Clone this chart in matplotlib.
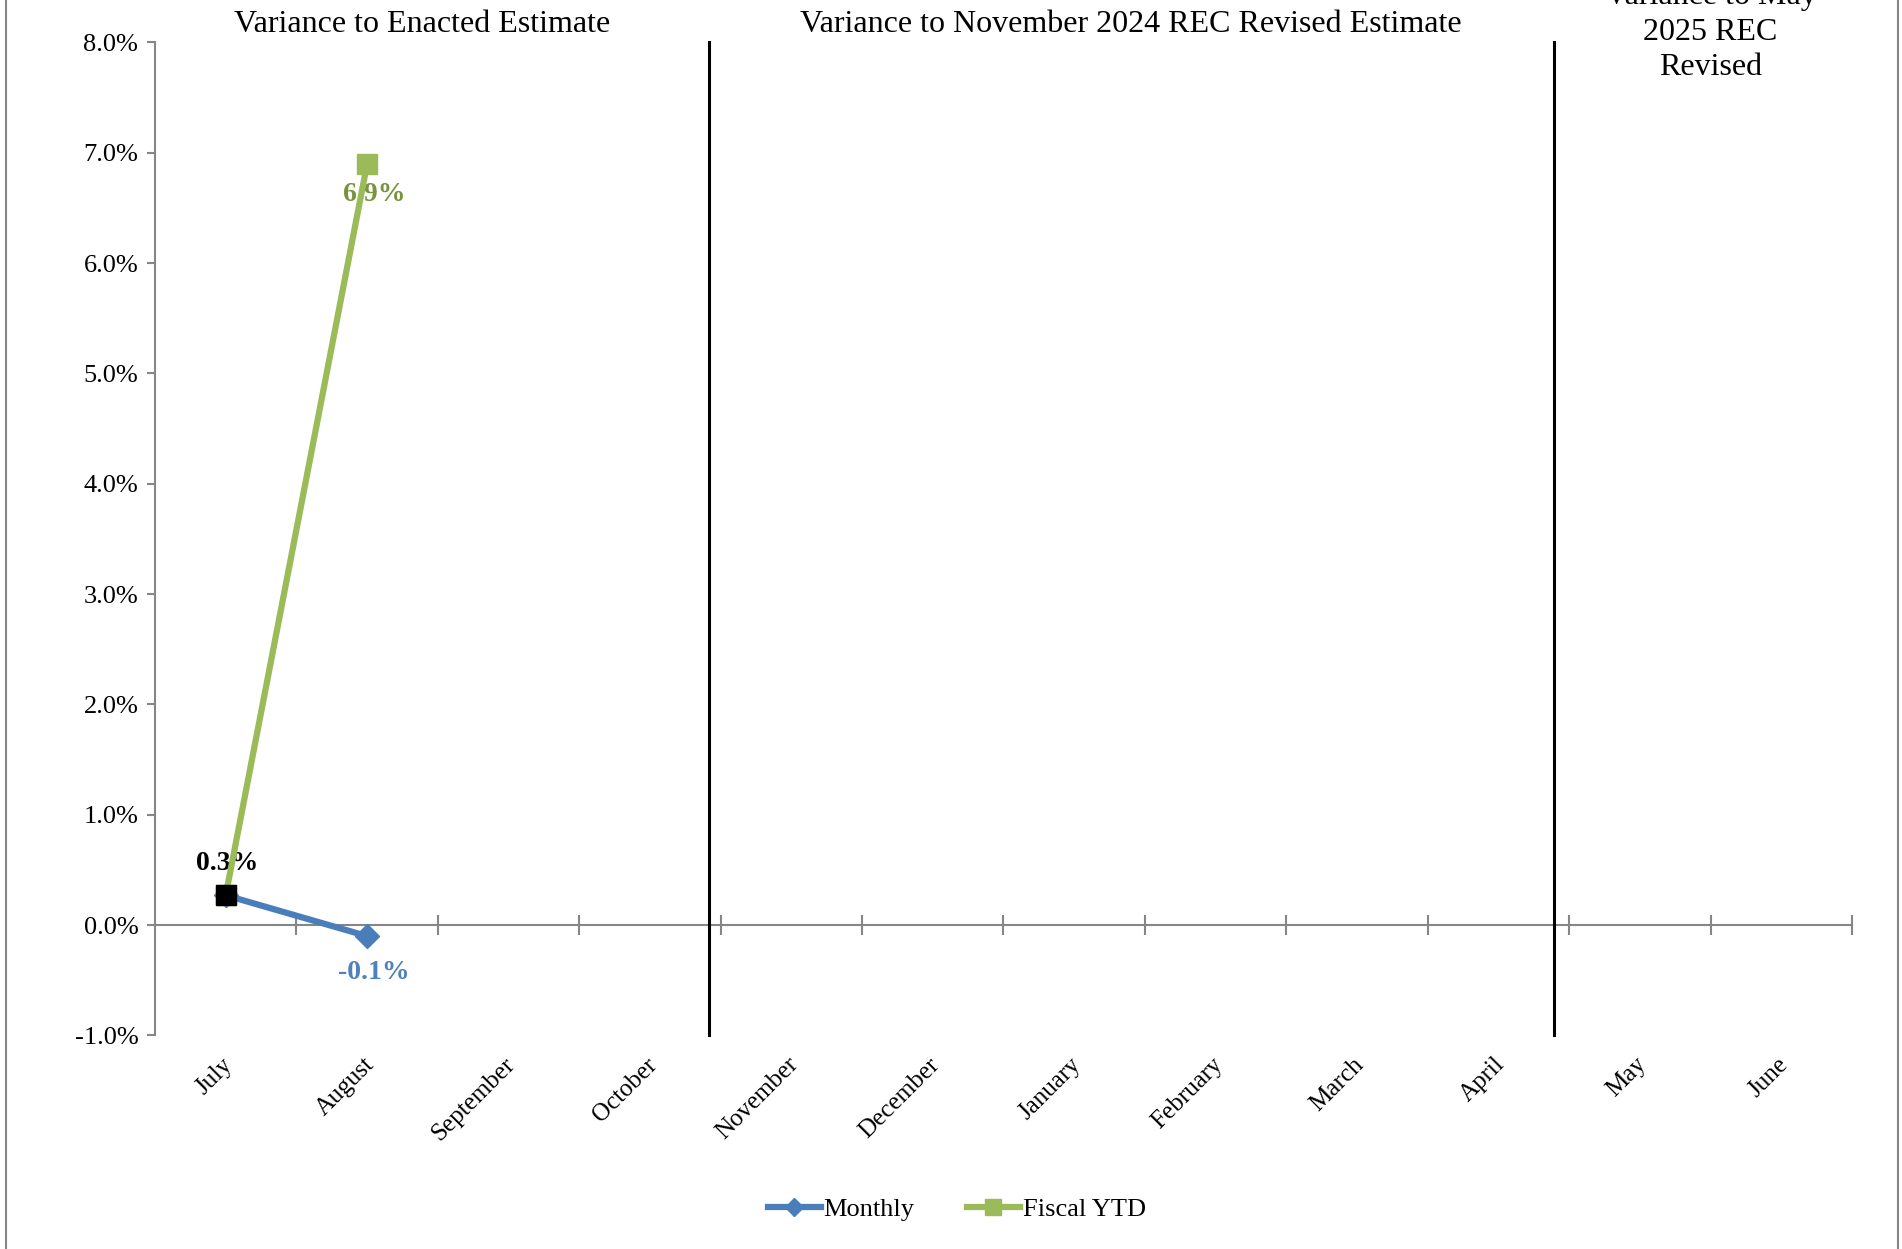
import numpy as np
import matplotlib.pyplot as plt
from matplotlib.lines import Line2D
from matplotlib.transforms import ScaledTranslation

# data
months = ['July', 'August', 'September', 'October', 'November', 'December',
          'January', 'February', 'March', 'April', 'May', 'June']
monthly = [0.27, -0.10]
fiscal_ytd = [0.27, 6.90]
monthly_labels = ['', '-0.1%']
ytd_labels = ['0.3%', '6.9%']
section_titles = ['Variance to Enacted Estimate',
                  'Variance to November 2024 REC Revised Estimate',
                  'Variance to May\n2025 REC\nRevised']

plt.rcParams['font.family'] = ['Liberation Serif', 'DejaVu Serif']

blue = '#4A7EBB'
green = '#9BBB59'
gray = '#868686'

fig = plt.figure(figsize=(19.02, 12.49), dpi=100)
ax = fig.add_axes([0.0815, 0.171, 0.8922, 0.795])

x = np.arange(len(months))
ax.plot(x[:len(monthly)], monthly, color=blue, lw=4.5, marker='D', ms=12,
        label='Monthly', zorder=3)
ax.plot(x[:len(fiscal_ytd)], fiscal_ytd, color=green, lw=4.5, marker='s', ms=14,
        label='Fiscal YTD', zorder=4)
# July point highlighted in black
ax.plot(x[0], fiscal_ytd[0], marker='s', ms=15, color='black', zorder=5, ls='none')

# data labels
ax.annotate(ytd_labels[0], (x[0], fiscal_ytd[0]), xytext=(1, 14), textcoords='offset points',
            ha='center', va='bottom', fontsize=20, fontweight='bold', color='black')
ax.annotate(ytd_labels[1], (x[1], fiscal_ytd[1]), xytext=(5, -13), textcoords='offset points',
            ha='center', va='top', fontsize=20, fontweight='bold', color='#77933C', zorder=2)
ax.annotate(monthly_labels[1], (x[1], monthly[1]), xytext=(5, -17), textcoords='offset points',
            ha='center', va='top', fontsize=20, fontweight='bold', color='#4F81BD')

ax.set_xlim(-0.5, len(months) - 0.5)
ax.set_ylim(-1, 8)
ax.set_yticks(np.arange(-1, 9, 1))
ax.set_yticklabels([f'{v:.1f}%' for v in np.arange(-1, 9, 1)], fontsize=19)
ax.set_xticks(x)
ax.set_xticklabels(months, rotation=45, ha='right', va='top', fontsize=18)
ax.tick_params(axis='x', length=0, pad=13)
ax.tick_params(axis='y', length=6, color=gray, width=1.5, pad=6)
for lab in ax.get_xticklabels():
    lab.set_transform(lab.get_transform() + ScaledTranslation(8 / 72, 0, fig.dpi_scale_trans))
for s in ['top', 'right', 'bottom']:
    ax.spines[s].set_visible(False)
ax.spines['left'].set_color(gray)
ax.spines['left'].set_linewidth(1.5)

# zero axis with crossing tick marks at category boundaries
zero_ax = ax.secondary_xaxis(1 / 9)
zero_ax.set_xticks(np.arange(0.5, len(months), 1))
zero_ax.tick_params(direction='inout', length=14, color=gray, width=1.5, labelbottom=False)
zero_ax.spines['bottom'].set_color(gray)
zero_ax.spines['bottom'].set_linewidth(1.5)

# section divider lines
for xv in [3.42, 9.39]:
    ax.axvline(xv, ymin=0, ymax=1.0, color='black', lw=2.2, clip_on=False)

# section titles
ax.text(1.39, 1.0106, section_titles[0], transform=ax.get_xaxis_transform(),
        ha='center', va='baseline', fontsize=23)
ax.text(6.40, 1.0106, section_titles[1], transform=ax.get_xaxis_transform(),
        ha='center', va='baseline', fontsize=23)
ax.text(10.50, 0.960, section_titles[2], transform=ax.get_xaxis_transform(),
        ha='center', va='bottom', fontsize=23, linespacing=1.3)

fig.legend(handles=[Line2D([], [], color=blue, lw=4.5, marker='D', ms=9),
                    Line2D([], [], color=green, lw=4.5, marker='s', ms=11)],
           labels=['Monthly', 'Fiscal YTD'], loc='center', bbox_to_anchor=(0.503, 0.032),
           ncol=2, frameon=False, fontsize=19, handlelength=2.0, handletextpad=0.1,
           columnspacing=2.0)

# outer chart border
fig.add_artist(Line2D([0.003, 0.003], [0, 1], color=gray, lw=1.5, transform=fig.transFigure))
fig.add_artist(Line2D([0.998, 0.998], [0, 1], color=gray, lw=1.5, transform=fig.transFigure))

fig.savefig('out.png', dpi=100)
